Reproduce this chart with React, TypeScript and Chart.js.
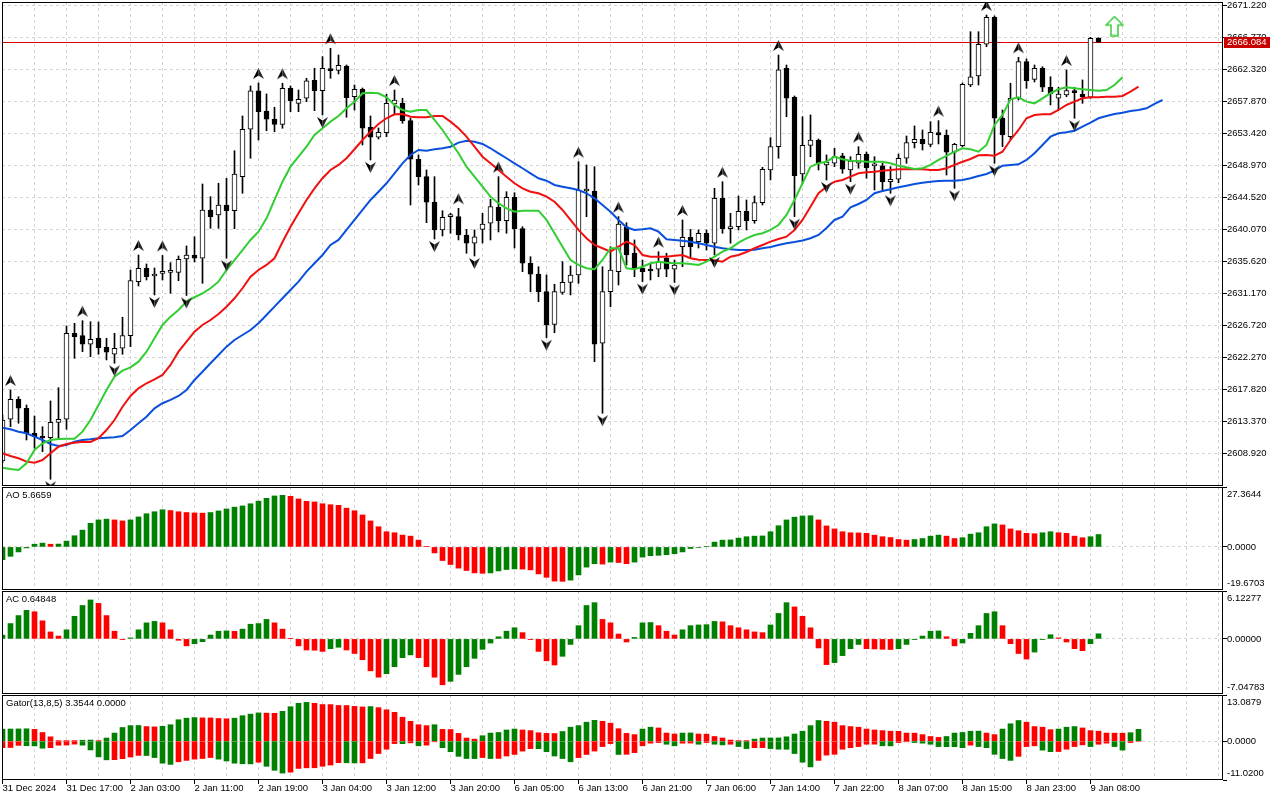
import React, { useEffect, useRef } from "react";
import { Chart, registerables } from "chart.js";

Chart.register(...registerables);

// ======================= DATA =======================
const timeLabels = [
  "31 Dec 2024", "31 Dec 17:00", "2 Jan 03:00", "2 Jan 11:00", "2 Jan 19:00", "3 Jan 04:00",
  "3 Jan 12:00", "3 Jan 20:00", "6 Jan 05:00", "6 Jan 13:00", "6 Jan 21:00", "7 Jan 06:00",
  "7 Jan 14:00", "7 Jan 22:00", "8 Jan 07:00", "8 Jan 15:00", "8 Jan 23:00", "9 Jan 08:00",
];
const timeLabelBars = [0, 8, 16, 24, 32, 40, 48, 56, 64, 72, 80, 88, 96, 104, 112, 120, 128, 136];

const priceTicks = [
  2608.92, 2613.37, 2617.82, 2622.27, 2626.72, 2631.17, 2635.62, 2640.07,
  2644.52, 2648.97, 2653.42, 2657.87, 2662.32, 2666.77, 2671.22,
];
const priceRange = [2604.373, 2671.679];
const lastPrice = 2666.084;
const signalBar = 139;
const signalPrice = 2668.34;

const open = [
  2607.85, 2613.65, 2616.43, 2615.18, 2611.70, 2611.26, 2611.09, 2613.23, 2613.65, 2625.61,
  2625.28, 2624.08, 2624.92, 2623.66, 2622.69, 2623.53, 2625.28, 2632.79, 2634.65, 2633.58,
  2633.93, 2634.07, 2634.09, 2635.94, 2636.50, 2636.04, 2642.76, 2642.06, 2643.45, 2642.66,
  2647.39, 2653.98, 2659.31, 2656.52, 2655.41, 2654.67, 2659.68, 2657.59, 2658.29, 2660.79,
  2659.35, 2662.32, 2662.18, 2662.78, 2658.51, 2659.54, 2654.26, 2652.87, 2653.51, 2657.50,
  2657.59, 2655.18, 2649.81, 2647.39, 2643.83, 2639.98, 2641.83, 2641.83, 2639.28, 2638.13,
  2640.07, 2640.91, 2643.13, 2641.27, 2644.52, 2640.16, 2635.35, 2633.82, 2631.40, 2626.86,
  2631.31, 2632.70, 2633.72, 2645.40, 2645.40, 2624.22, 2631.40, 2634.18, 2640.43, 2636.74,
  2634.65, 2634.34, 2634.51, 2636.04, 2634.51, 2637.65, 2638.96, 2638.35, 2639.52, 2638.13,
  2644.38, 2640.16, 2640.43, 2642.58, 2641.27, 2643.77, 2648.32, 2651.56, 2662.46, 2658.43,
  2647.76, 2651.75, 2652.49, 2649.02, 2649.25, 2650.27, 2648.32, 2649.25, 2650.50, 2648.88,
  2648.88, 2646.69, 2647.03, 2649.95, 2652.12, 2652.59, 2651.89, 2653.51, 2653.19, 2650.78,
  2651.70, 2660.14, 2661.39, 2665.80, 2669.55, 2655.51, 2652.95, 2658.29, 2663.38, 2660.93,
  2662.46, 2659.82, 2658.29, 2658.75, 2659.35, 2658.85, 2658.43, 2666.63,
];
const high = [
  2614.25, 2617.73, 2616.79, 2615.64, 2614.11, 2612.62, 2616.20, 2618.05, 2626.63, 2627.00,
  2627.36, 2627.22, 2627.18, 2624.92, 2625.61, 2627.84, 2634.41, 2636.50, 2635.25, 2634.69,
  2636.43, 2635.43, 2636.36, 2637.75, 2639.04, 2646.37, 2644.61, 2646.47, 2647.17, 2651.00,
  2655.83, 2660.00, 2660.42, 2658.89, 2657.04, 2660.38, 2660.00, 2659.44, 2661.07, 2662.46,
  2664.08, 2665.24, 2664.31, 2662.92, 2660.14, 2659.72, 2655.83, 2654.16, 2658.85, 2659.44,
  2658.29, 2655.51, 2650.41, 2648.32, 2647.39, 2642.66, 2642.30, 2642.99, 2640.07, 2639.98,
  2642.30, 2644.25, 2647.39, 2645.30, 2645.16, 2640.43, 2636.26, 2634.87, 2633.72, 2632.43,
  2635.57, 2634.97, 2649.47, 2649.02, 2648.78, 2634.87, 2637.65, 2641.83, 2640.99, 2638.59,
  2635.80, 2635.35, 2636.96, 2636.74, 2635.80, 2641.37, 2640.07, 2639.98, 2639.98, 2645.77,
  2646.69, 2642.30, 2644.70, 2644.15, 2644.70, 2648.70, 2652.81, 2664.31, 2662.92, 2658.61,
  2655.73, 2655.97, 2652.63, 2650.41, 2651.34, 2650.64, 2650.17, 2651.56, 2650.82, 2650.17,
  2649.25, 2648.78, 2650.54, 2653.05, 2654.44, 2653.88, 2655.04, 2655.18, 2653.88, 2652.03,
  2660.42, 2667.55, 2667.55, 2669.87, 2669.74, 2656.66, 2660.38, 2663.99, 2663.76, 2662.92,
  2662.68, 2661.29, 2659.82, 2662.23, 2659.82, 2660.84, 2666.77, 2666.72,
];
const low = [
  2607.58, 2612.62, 2613.10, 2610.77, 2609.62, 2609.15, 2605.31, 2611.01, 2612.26, 2622.13,
  2623.05, 2622.36, 2622.69, 2621.90, 2621.44, 2622.69, 2623.75, 2632.19, 2633.02, 2630.94,
  2633.02, 2631.17, 2632.93, 2630.87, 2635.53, 2632.56, 2640.21, 2640.21, 2636.04, 2640.16,
  2645.08, 2649.95, 2652.49, 2653.78, 2653.65, 2654.12, 2656.43, 2656.43, 2657.82, 2656.57,
  2655.97, 2661.07, 2661.67, 2655.65, 2656.66, 2651.80, 2649.71, 2652.63, 2652.95, 2655.97,
  2654.81, 2643.45, 2646.23, 2640.99, 2638.72, 2639.14, 2639.52, 2638.59, 2636.74, 2636.36,
  2638.17, 2638.59, 2639.70, 2639.52, 2637.47, 2634.18, 2631.40, 2630.01, 2625.00, 2625.69,
  2631.03, 2630.94, 2632.56, 2641.83, 2621.66, 2614.49, 2629.31, 2632.33, 2635.11, 2633.48,
  2632.79, 2633.02, 2633.48, 2633.48, 2632.68, 2634.87, 2636.08, 2637.47, 2637.19, 2636.50,
  2639.52, 2638.13, 2639.98, 2639.98, 2640.91, 2643.45, 2646.93, 2649.95, 2655.73, 2641.83,
  2646.47, 2650.17, 2648.32, 2646.93, 2648.78, 2647.86, 2646.69, 2648.56, 2647.17, 2645.54,
  2645.30, 2645.08, 2646.55, 2649.25, 2651.38, 2651.10, 2651.56, 2651.94, 2647.62, 2645.77,
  2651.52, 2659.90, 2660.14, 2665.47, 2649.25, 2651.56, 2652.49, 2658.05, 2659.68, 2660.56,
  2659.21, 2657.36, 2656.66, 2658.51, 2655.51, 2657.59, 2658.29, 2666.05,
];
const close = [
  2613.55, 2616.43, 2615.18, 2611.70, 2611.23, 2611.05, 2613.23, 2613.65, 2625.61, 2625.14,
  2624.08, 2624.78, 2623.61, 2622.97, 2623.53, 2625.28, 2632.93, 2634.65, 2633.48, 2633.86,
  2634.00, 2634.14, 2635.90, 2636.50, 2636.04, 2642.76, 2641.83, 2643.45, 2642.66, 2647.76,
  2653.98, 2659.31, 2656.43, 2655.37, 2654.67, 2659.68, 2657.96, 2658.15, 2660.70, 2659.35,
  2662.46, 2662.13, 2662.88, 2658.37, 2659.54, 2654.12, 2652.87, 2653.56, 2657.59, 2658.05,
  2655.18, 2649.81, 2647.39, 2643.83, 2639.98, 2641.74, 2641.92, 2639.28, 2638.13, 2639.04,
  2640.81, 2643.22, 2641.27, 2644.52, 2640.16, 2635.35, 2633.82, 2631.40, 2626.77, 2631.40,
  2632.70, 2633.72, 2645.54, 2645.54, 2624.08, 2631.40, 2634.41, 2640.81, 2636.50, 2634.65,
  2634.18, 2634.27, 2635.57, 2634.51, 2635.11, 2638.96, 2637.65, 2639.52, 2638.13, 2644.38,
  2640.16, 2640.43, 2642.58, 2641.27, 2643.77, 2648.42, 2651.56, 2662.23, 2658.29, 2647.53,
  2651.75, 2652.49, 2649.25, 2649.43, 2650.17, 2648.42, 2649.57, 2650.50, 2648.64, 2648.99,
  2646.69, 2647.03, 2649.95, 2652.12, 2652.59, 2651.94, 2653.56, 2653.19, 2650.78, 2651.89,
  2660.24, 2661.29, 2665.80, 2669.55, 2655.51, 2653.19, 2658.29, 2663.38, 2660.74, 2662.46,
  2659.82, 2658.89, 2658.89, 2659.35, 2659.07, 2658.43, 2666.63, 2666.084,
];

// Alligator lines (already shifted as drawn on the chart)
const lips = [
  2606.92, 2606.74, 2606.60, 2607.53, 2609.38, 2610.31, 2610.77, 2610.91, 2610.95, 2610.95,
  2611.93, 2613.55, 2615.64, 2617.73, 2619.58, 2620.41, 2620.88, 2621.66, 2623.05, 2624.92,
  2626.77, 2627.92, 2628.85, 2630.01, 2630.62, 2631.17, 2631.87, 2632.79, 2634.41, 2635.80,
  2637.19, 2638.59, 2639.74, 2641.60, 2644.15, 2646.69, 2648.78, 2650.17, 2651.56, 2653.19,
  2654.12, 2655.04, 2655.83, 2656.90, 2657.82, 2658.99, 2659.07, 2658.99, 2658.43, 2657.36,
  2656.66, 2656.43, 2656.66, 2656.66, 2655.27, 2653.88, 2652.25, 2650.64, 2648.78, 2647.39,
  2646.00, 2644.61, 2643.69, 2642.99, 2642.52, 2642.66, 2642.66, 2642.66, 2641.37, 2639.52,
  2637.65, 2635.80, 2635.11, 2634.65, 2634.51, 2635.80, 2637.43, 2637.43, 2634.65, 2634.51,
  2634.87, 2635.35, 2635.57, 2635.43, 2635.35, 2635.35, 2635.25, 2635.11, 2635.57, 2636.26,
  2636.96, 2637.43, 2638.21, 2638.82, 2639.28, 2639.52, 2639.98, 2640.67, 2642.06, 2644.15,
  2646.47, 2648.78, 2649.25, 2649.47, 2650.17, 2649.81, 2649.61, 2649.57, 2649.47, 2649.47,
  2649.47, 2649.25, 2648.92, 2648.70, 2648.46, 2648.56, 2649.02, 2649.71, 2650.27, 2650.86,
  2651.34, 2651.20, 2650.86, 2651.80, 2654.58, 2655.97, 2658.15, 2658.43, 2657.82, 2657.59,
  2658.29, 2658.99, 2659.54, 2659.82, 2659.68, 2659.54, 2659.44, 2659.35, 2659.44, 2660.14,
  2661.21,
];
const teeth = [
  2608.92, 2608.55, 2608.23, 2607.76, 2607.62, 2607.99, 2608.92, 2609.84, 2610.22, 2610.40,
  2610.54, 2610.49, 2611.01, 2612.16, 2613.55, 2615.40, 2616.89, 2617.96, 2618.66, 2619.21,
  2619.81, 2621.20, 2623.05, 2624.44, 2625.83, 2626.77, 2627.46, 2628.29, 2629.31, 2630.48,
  2631.87, 2633.48, 2634.41, 2635.11, 2636.04, 2638.31, 2640.43, 2642.30, 2644.15, 2645.77,
  2647.17, 2648.32, 2649.02, 2649.95, 2651.20, 2652.49, 2653.65, 2654.72, 2655.51, 2656.07,
  2656.11, 2655.73, 2655.65, 2655.65, 2655.83, 2655.83, 2655.04, 2654.12, 2652.95, 2651.56,
  2650.17, 2649.25, 2648.32, 2647.39, 2646.47, 2645.77, 2645.30, 2645.08, 2644.61, 2643.91,
  2642.76, 2641.37, 2639.98, 2638.82, 2637.89, 2637.43, 2636.96, 2637.65, 2638.35, 2637.89,
  2636.50, 2636.26, 2636.26, 2636.26, 2636.40, 2636.50, 2636.04, 2635.85, 2635.80, 2635.76,
  2635.57, 2636.26, 2636.50, 2636.92, 2637.43, 2637.89, 2638.35, 2638.72, 2639.04, 2639.98,
  2641.37, 2643.22, 2645.08, 2645.99, 2646.69, 2646.93, 2647.39, 2647.86, 2648.00, 2648.08,
  2648.22, 2648.32, 2648.42, 2648.42, 2648.42, 2648.42, 2648.32, 2648.32, 2648.56, 2649.02,
  2649.47, 2649.85, 2650.36, 2650.41, 2650.31, 2650.86, 2652.49, 2653.88, 2655.51, 2655.97,
  2656.07, 2656.07, 2656.66, 2657.36, 2657.82, 2658.29, 2658.43, 2658.43, 2658.51, 2658.51,
  2658.61, 2659.21, 2659.90,
];
const jaw = [
  2612.48, 2612.26, 2611.93, 2611.70, 2611.23, 2610.77, 2610.22, 2609.94, 2610.08, 2610.54,
  2610.77, 2610.87, 2611.01, 2611.09, 2611.15, 2611.33, 2612.16, 2613.10, 2614.01, 2615.18,
  2615.88, 2616.34, 2616.89, 2617.73, 2619.12, 2620.27, 2621.44, 2622.59, 2623.75, 2624.68,
  2625.37, 2626.07, 2627.00, 2628.16, 2629.31, 2630.48, 2631.63, 2632.79, 2634.18, 2635.35,
  2636.50, 2637.89, 2638.59, 2639.98, 2641.37, 2642.76, 2644.15, 2645.30, 2646.47, 2647.86,
  2649.25, 2650.41, 2651.10, 2651.00, 2651.20, 2651.34, 2651.56, 2652.12, 2652.39, 2652.25,
  2651.94, 2651.34, 2650.64, 2649.95, 2649.25, 2648.56, 2647.86, 2647.17, 2646.83, 2646.23,
  2645.99, 2645.77, 2645.54, 2645.08, 2644.38, 2643.45, 2642.52, 2641.37, 2640.35, 2639.98,
  2640.07, 2640.21, 2639.74, 2638.68, 2638.59, 2638.49, 2638.35, 2638.13, 2637.89, 2637.65,
  2637.43, 2637.29, 2637.19, 2637.19, 2637.24, 2637.43, 2637.61, 2637.89, 2638.13, 2638.31,
  2638.52, 2638.82, 2639.28, 2640.25, 2641.37, 2641.83, 2643.13, 2643.59, 2644.15, 2645.08,
  2645.40, 2645.64, 2645.91, 2646.14, 2646.37, 2646.55, 2646.69, 2646.79, 2646.83, 2646.83,
  2646.93, 2647.17, 2647.49, 2647.76, 2648.22, 2648.92, 2649.02, 2649.11, 2649.71, 2650.64,
  2651.80, 2652.95, 2653.42, 2653.56, 2653.78, 2654.34, 2654.90, 2655.51, 2655.83, 2656.11,
  2656.29, 2656.52, 2656.66, 2656.90, 2657.50, 2658.05,
];

const fractalUp = [1, 10, 17, 20, 32, 35, 41, 49, 57, 62, 72, 77, 82, 85, 90, 97, 107, 117, 123, 127, 133];
const fractalDown = [6, 14, 19, 23, 28, 40, 46, 54, 59, 68, 75, 80, 84, 89, 99, 103, 106, 111, 119, 124, 134];

const aoValues = [
  -5.84, -4.29, -2.28, -0.46, 1.23, 1.73, 1.23, 1.30, 2.65, 5.11,
  7.67, 10.77, 12.33, 12.69, 12.33, 11.87, 12.33, 13.70, 15.16, 16.07,
  16.98, 16.62, 16.07, 15.70, 15.52, 15.43, 15.70, 16.43, 17.35, 18.17,
  18.72, 19.72, 20.91, 22.19, 23.28, 23.56, 23.10, 21.91, 20.82, 20.54,
  19.72, 19.26, 18.99, 17.71, 16.53, 14.61, 11.87, 9.22, 6.94, 6.48,
  5.39, 4.93, 3.10, 0.27, -2.74, -6.21, -8.03, -9.68, -10.77, -11.87,
  -12.05, -11.87, -10.96, -10.32, -10.04, -10.13, -10.50, -12.33, -13.88, -15.61,
  -15.70, -15.16, -12.78, -9.22, -7.67, -7.85, -6.94, -7.12, -7.67, -6.94,
  -4.66, -4.02, -3.83, -3.56, -3.10, -2.28, -0.73, -0.27, 0.27, 2.19,
  3.10, 3.20, 4.02, 4.66, 4.93, 5.02, 6.94, 9.68, 12.33, 13.60,
  14.15, 14.24, 12.33, 9.59, 8.22, 6.94, 6.48, 6.39, 6.21, 5.39,
  4.66, 4.29, 3.38, 3.10, 3.38, 3.83, 4.93, 5.39, 4.93, 3.83,
  4.20, 5.84, 6.48, 9.22, 10.50, 10.04, 8.22, 7.40, 6.21, 6.03,
  6.48, 6.94, 6.48, 6.21, 4.93, 4.20, 4.66, 5.6659,
];
const aoRange = [-19.6703, 27.3644];

const acValues = [
  0.48, 1.96, 2.98, 3.65, 3.47, 2.31, 0.89, 0.36, 1.16, 2.89,
  4.27, 4.98, 4.54, 2.98, 0.98, -0.09, 0.13, 1.16, 2.05, 2.23,
  2.05, 1.16, -0.18, -0.89, -0.62, -0.36, 0.49, 0.98, 1.02, 0.97,
  1.25, 1.87, 1.96, 2.49, 2.05, 1.25, 0.04, -0.89, -1.42, -1.45,
  -1.60, -1.25, -1.07, -1.42, -1.87, -2.67, -4.09, -4.90, -4.45, -3.56,
  -2.40, -2.05, -2.40, -3.56, -4.90, -5.87, -5.43, -4.54, -3.56, -2.49,
  -1.34, -0.53, 0.27, 0.98, 1.42, 0.80, -0.09, -1.60, -2.80, -3.34,
  -2.23, -0.71, 1.69, 4.27, 4.63, 2.49, 2.05, 0.62, -0.40, 0.18,
  2.05, 2.09, 1.69, 0.98, 0.49, 1.16, 1.69, 1.78, 1.82, 2.23,
  2.18, 1.69, 1.42, 1.16, 0.89, 0.80, 1.78, 3.25, 4.63, 4.09,
  2.89, 1.42, -1.16, -3.29, -3.03, -2.14, -1.25, -0.71, -1.25, -1.29,
  -1.33, -1.36, -1.25, -0.71, -0.09, 0.36, 0.98, 1.02, 0.27, -0.89,
  -0.53, 0.71, 1.69, 3.25, 3.47, 1.69, -0.62, -1.87, -2.58, -1.69,
  -0.09, 0.53, 0.13, -0.40, -1.25, -1.51, -0.62, 0.64848,
];
const acRange = [-7.04783, 6.12277];

const gatorUpper = [
  3.40, 3.44, 3.47, 3.50, 3.34, 2.46, 1.23, 0.12, 0.10, 0.08,
  0.26, 0.31, 0.09, 0.88, 2.29, 3.87, 4.40, 4.44, 4.14, 4.05,
  4.22, 4.66, 6.07, 6.51, 6.69, 6.60, 6.58, 6.42, 6.34, 6.51,
  7.22, 7.66, 8.01, 7.94, 7.90, 8.45, 9.77, 10.74, 11.00, 10.74,
  10.38, 10.36, 10.12, 10.10, 9.86, 9.70, 9.80, 9.50, 8.89, 8.18,
  6.78, 5.63, 4.66, 4.40, 4.66, 3.34, 3.30, 2.20, 0.88, 0.57,
  1.54, 2.29, 2.46, 3.17, 3.43, 3.17, 2.99, 2.38, 2.20, 2.16,
  2.73, 3.96, 4.40, 5.37, 5.90, 5.63, 5.10, 3.52, 2.20, 1.85,
  3.43, 3.96, 3.74, 2.29, 2.02, 2.29, 2.33, 2.02, 1.98, 1.32,
  0.88, 0.31, 0.09, 0.08, 0.57, 0.88, 0.90, 0.92, 1.23, 2.02,
  2.82, 4.40, 5.85, 5.63, 5.37, 4.40, 4.14, 3.96, 3.43, 3.17,
  2.99, 2.82, 2.80, 2.29, 2.27, 1.85, 1.32, 1.06, 1.32, 2.29,
  2.46, 2.82, 2.84, 2.29, 1.85, 3.43, 4.93, 5.85, 5.37, 4.14,
  3.96, 3.26, 3.43, 3.96, 4.14, 3.74, 2.99, 2.82, 2.29, 2.27,
  2.25, 2.40, 3.3544,
];
const gatorLower = [
  -1.85, -1.80, -1.20, -1.30, -1.35, -2.00, -1.85, -1.15, -1.10, -0.85,
  -1.15, -2.50, -4.45, -5.30, -5.25, -4.98, -4.50, -4.05, -4.08, -4.66,
  -6.25, -6.60, -5.85, -5.46, -5.10, -4.93, -4.66, -5.10, -5.63, -6.25,
  -6.42, -6.45, -5.98, -7.13, -8.27, -9.06, -8.80, -7.74, -7.57, -7.55,
  -7.13, -6.78, -6.10, -6.14, -6.18, -6.16, -4.93, -3.52, -2.29, -0.70,
  -0.72, -0.48, -1.32, -1.14, -0.18, -1.85, -2.99, -4.31, -4.93, -4.95,
  -4.66, -4.93, -4.90, -4.22, -3.78, -2.82, -2.11, -2.15, -2.99, -4.22,
  -4.93, -5.85, -4.66, -3.78, -2.82, -1.54, -0.70, -3.78, -3.74, -3.26,
  -1.32, -0.57, -0.40, -0.88, -1.32, -0.57, -0.55, -0.88, -0.40, -0.88,
  -1.06, -0.88, -1.54, -2.11, -1.85, -1.83, -2.11, -2.29, -2.31, -3.52,
  -5.98, -7.30, -5.46, -3.96, -3.74, -2.29, -1.85, -1.54, -0.88, -0.86,
  -1.32, -1.34, -0.40, -0.18, -0.40, -0.57, -0.88, -1.54, -1.56, -1.58,
  -1.85, -1.14, -1.54, -1.85, -3.74, -4.93, -5.46, -4.31, -1.54, -1.32,
  -2.55, -2.99, -2.95, -2.29, -1.54, -1.06, -1.54, -0.88, -0.57, -1.54,
  -2.55, -0.40, 0,
];
const gatorRange = [-11.02, 13.0879];

// ======================= STYLE / LAYOUT =======================
const X_MIN = -0.0625;
const X_MAX = 152.5625;
const GRID_STEP = 4;
const GREEN = "#008000";
const RED = "#ff0000";
const GRID_COLOR = "#d4d4d4";
const LIPS_COLOR = "#32cd32";
const TEETH_COLOR = "#f01010";
const JAW_COLOR = "#0a50dc";
const PRICE_LINE = "#e00000";
const PRICE_BOX = "#c80000";
const AXIS_W = 57;

function pickFont() {
  try {
    const g = document.createElement("canvas").getContext("2d") as CanvasRenderingContext2D;
    const s = "2662.320 AO Dec 17:00";
    g.font = "11px monospace";
    const a = g.measureText(s).width;
    g.font = '11px "Liberation Sans Narrow", monospace';
    const b = g.measureText(s).width;
    if (Math.abs(a - b) > 0.5) return { family: '"Liberation Sans Narrow"', size: 11 };
  } catch (e) {}
  return { family: '"Liberation Sans", Arial, sans-serif', size: 9.5 };
}

function fractalIcon(up: boolean) {
  const c = document.createElement("canvas");
  c.width = 13;
  c.height = 32;
  const g = c.getContext("2d") as CanvasRenderingContext2D;
  if (up) {
    g.fillStyle = "#000";
    g.beginPath(); g.moveTo(6.5, 1); g.lineTo(6.5, 8.5); g.lineTo(1, 12); g.closePath(); g.fill();
    g.fillStyle = "#262626";
    g.beginPath(); g.moveTo(6.5, 1); g.lineTo(12, 12); g.lineTo(6.5, 8.5); g.closePath(); g.fill();
  } else {
    g.fillStyle = "#000";
    g.beginPath(); g.moveTo(6.5, 29); g.lineTo(6.5, 21.5); g.lineTo(1, 18); g.closePath(); g.fill();
    g.fillStyle = "#262626";
    g.beginPath(); g.moveTo(6.5, 29); g.lineTo(12, 18); g.lineTo(6.5, 21.5); g.closePath(); g.fill();
  }
  return c;
}

function signalIcon() {
  const c = document.createElement("canvas");
  c.width = 19;
  c.height = 21;
  const g = c.getContext("2d") as CanvasRenderingContext2D;
  g.beginPath();
  g.moveTo(9.5, 1); g.lineTo(18, 9.5); g.lineTo(13, 9.5); g.lineTo(13, 20);
  g.lineTo(6, 20); g.lineTo(6, 9.5); g.lineTo(1, 9.5); g.closePath();
  g.fillStyle = "#ffffff"; g.fill();
  g.strokeStyle = "#3ccc3c"; g.lineWidth = 1.5; g.stroke();
  return c;
}

const trendColors = (vals: number[], useAbs: boolean, first: string) =>
  vals.map((v, i) => {
    if (i === 0) return first;
    const a = useAbs ? Math.abs(v) : v;
    const b = useAbs ? Math.abs(vals[i - 1]) : vals[i - 1];
    return a > b ? GREEN : RED;
  });

function xScale(show: boolean, font: any) {
  const s: any = {
    type: "linear",
    min: X_MIN,
    max: X_MAX,
    offset: false,
    display: show,
    border: { display: false },
    grid: { display: show, offset: false, drawOnChartArea: false, drawTicks: true, tickLength: 4, tickColor: "#000", lineWidth: 1 },
  };
  if (show) {
    s.ticks = {
      autoSkip: false, maxRotation: 0, minRotation: 0, align: "start", padding: -1,
      color: "#000", font, callback: (_v: any, i: number) => timeLabels[i] ?? "",
    };
    s.afterBuildTicks = (axis: any) => { axis.ticks = timeLabelBars.map((v) => ({ value: v })); };
    s.afterFit = (axis: any) => { axis.height = 20; axis.paddingLeft = 0; axis.paddingRight = 0; };
  }
  return s;
}

function yScale(min: number, max: number, ticks: number[], fmt: (v: number) => any, font: any) {
  return {
    type: "linear",
    position: "right",
    min,
    max,
    beginAtZero: false,
    border: { display: false },
    grid: { drawOnChartArea: false, drawTicks: true, tickLength: 4, tickColor: "#000", lineWidth: 1 },
    ticks: { autoSkip: false, padding: 0, color: "#000", font: { ...font, lineHeight: 1.5 }, callback: (v: any) => fmt(Number(v)) },
    afterBuildTicks: (axis: any) => { axis.ticks = ticks.map((v) => ({ value: v })); },
    afterFit: (axis: any) => { axis.width = AXIS_W; axis.paddingTop = 0; axis.paddingBottom = 0; },
  };
}

function paneDecor(levels: number[]) {
  return {
    id: "mtPane",
    beforeDatasetsDraw(chart: any) {
      const { ctx, chartArea: a } = chart;
      const xs = chart.scales.x;
      const ys = chart.scales.y;
      ctx.save();
      ctx.beginPath();
      ctx.rect(a.left, a.top, a.right - a.left, a.bottom - a.top);
      ctx.clip();
      ctx.strokeStyle = GRID_COLOR;
      ctx.lineWidth = 1;
      ctx.setLineDash([3, 3]);
      for (let k = GRID_STEP; k <= X_MAX; k += GRID_STEP) {
        const px = Math.round(xs.getPixelForValue(k) - 0.5) + 0.5;
        ctx.beginPath(); ctx.moveTo(px, a.top); ctx.lineTo(px, a.bottom); ctx.stroke();
      }
      for (const v of levels) {
        const py = Math.floor(ys.getPixelForValue(v)) + 0.5;
        ctx.beginPath(); ctx.moveTo(a.left, py); ctx.lineTo(a.right, py); ctx.stroke();
      }
      ctx.restore();
    },
    afterDatasetsDraw(chart: any) {
      const { ctx, chartArea: a } = chart;
      ctx.save();
      ctx.setLineDash([]);
      ctx.strokeStyle = "#000";
      ctx.lineWidth = 1;
      ctx.strokeRect(a.left + 0.5, a.top + 0.5, a.right - a.left - 1, a.bottom - a.top - 1);
      ctx.restore();
    },
  };
}

function titlePlugin(text: string, font: any) {
  return {
    id: "mtTitle",
    afterDraw(chart: any) {
      const { ctx, chartArea: a } = chart;
      ctx.save();
      ctx.font = `${font.size}px ${font.family}`;
      ctx.fillStyle = "#000";
      ctx.textAlign = "left";
      ctx.textBaseline = "middle";
      ctx.fillText(text, a.left + 4, a.top + 8);
      ctx.restore();
    },
  };
}

function pricePlugin(font: any) {
  return {
    id: "mtPrice",
    beforeDatasetsDraw(chart: any) {
      const { ctx, chartArea: a } = chart;
      const py = Math.floor(chart.scales.y.getPixelForValue(lastPrice)) + 0.5;
      ctx.save();
      ctx.strokeStyle = PRICE_LINE;
      ctx.lineWidth = 1;
      ctx.beginPath(); ctx.moveTo(a.left, py); ctx.lineTo(a.right, py); ctx.stroke();
      ctx.restore();
    },
    afterDraw(chart: any) {
      const { ctx, chartArea: a } = chart;
      const py = Math.floor(chart.scales.y.getPixelForValue(lastPrice));
      ctx.save();
      ctx.fillStyle = PRICE_BOX;
      ctx.fillRect(a.right + 1, py - 5, 46, 11);
      ctx.fillStyle = "#ffffff";
      ctx.font = `${font.size}px ${font.family}`;
      ctx.textAlign = "left";
      ctx.textBaseline = "middle";
      ctx.fillText(lastPrice.toFixed(3), a.right + 4, py + 0.5);
      ctx.restore();
    },
  };
}

const baseOptions = (padTop: number) => ({
  responsive: false,
  animation: false,
  devicePixelRatio: 1,
  events: [],
  layout: { autoPadding: false, padding: { left: 2, top: padTop, right: 0, bottom: 0 } },
  plugins: { legend: { display: false }, tooltip: { enabled: false } },
});

function mainConfig(font: any) {
  const bodyColors = open.map((o, i) => (close[i] >= o ? "#ffffff" : "#000000"));
  const upIcon = fractalIcon(true);
  const downIcon = fractalIcon(false);
  return {
    type: "bar",
    data: {
      datasets: [
        { type: "scatter", data: [{ x: signalBar, y: signalPrice }], pointStyle: signalIcon(), pointRadius: 5, clip: 0, order: 0 },
        { type: "scatter", data: fractalUp.map((i) => ({ x: i, y: high[i] })), pointStyle: upIcon, pointRadius: 5, clip: 0, order: 0 },
        { type: "scatter", data: fractalDown.map((i) => ({ x: i, y: low[i] })), pointStyle: downIcon, pointRadius: 5, clip: 0, order: 0 },
        { type: "line", data: lips.map((y, i) => ({ x: i, y })), borderColor: LIPS_COLOR, borderWidth: 2, pointRadius: 0, tension: 0, fill: false, order: 0 },
        { type: "line", data: teeth.map((y, i) => ({ x: i, y })), borderColor: TEETH_COLOR, borderWidth: 2, pointRadius: 0, tension: 0, fill: false, order: 0 },
        { type: "line", data: jaw.map((y, i) => ({ x: i, y })), borderColor: JAW_COLOR, borderWidth: 2, pointRadius: 0, tension: 0, fill: false, order: 0 },
        {
          type: "bar", data: open.map((o, i) => ({ x: i, y: [o, close[i]] })),
          backgroundColor: bodyColors, borderColor: "#000000", borderWidth: 1, borderSkipped: false,
          barThickness: 5, minBarLength: 2, grouped: false, order: 1,
        },
        {
          type: "bar", data: low.map((l, i) => ({ x: i, y: [l, high[i]] })),
          backgroundColor: "#000000", borderWidth: 0, barThickness: 1, grouped: false, order: 2,
        },
      ],
    },
    options: {
      ...baseOptions(2),
      scales: {
        x: xScale(false, font),
        y: yScale(priceRange[0], priceRange[1], priceTicks, (v) => v.toFixed(3), font),
      },
    },
    plugins: [paneDecor(priceTicks), pricePlugin(font)],
  };
}

function histConfig(
  series: { values: number[]; colors: string[] }[],
  range: number[],
  digits: number,
  title: string,
  font: any,
  showX: boolean,
) {
  const [mn, mx] = range;
  const fmt = (v: number) => {
    if (Math.abs(v - mx) < 1e-9) return ["", mx.toFixed(digits)];
    if (Math.abs(v - mn) < 1e-9) return [mn.toFixed(digits), ""];
    return v.toFixed(digits);
  };
  return {
    type: "bar",
    data: {
      datasets: series.map((s) => ({
        type: "bar",
        data: s.values.map((y, i) => ({ x: i, y })),
        backgroundColor: s.colors,
        borderWidth: 0,
        barThickness: 5,
        grouped: false,
      })),
    },
    options: {
      ...baseOptions(1),
      scales: {
        x: xScale(showX, font),
        y: yScale(mn, mx, [mn, 0, mx], fmt, font),
      },
    },
    plugins: [paneDecor([0]), titlePlugin(title, font)],
  };
}

export default function App() {
  const mainRef = useRef<HTMLCanvasElement>(null);
  const aoRef = useRef<HTMLCanvasElement>(null);
  const acRef = useRef<HTMLCanvasElement>(null);
  const gatorRef = useRef<HTMLCanvasElement>(null);

  useEffect(() => {
    const font = pickFont();
    const last = (a: number[]) => a[a.length - 1];
    const charts: Chart[] = [];
    charts.push(new Chart(mainRef.current as HTMLCanvasElement, mainConfig(font) as any));
    charts.push(
      new Chart(
        aoRef.current as HTMLCanvasElement,
        histConfig([{ values: aoValues, colors: trendColors(aoValues, false, GREEN) }], aoRange, 4,
          `AO ${last(aoValues).toFixed(4)}`, font, false) as any,
      ),
    );
    charts.push(
      new Chart(
        acRef.current as HTMLCanvasElement,
        histConfig([{ values: acValues, colors: trendColors(acValues, false, GREEN) }], acRange, 5,
          `AC ${last(acValues).toFixed(5)}`, font, false) as any,
      ),
    );
    charts.push(
      new Chart(
        gatorRef.current as HTMLCanvasElement,
        histConfig(
          [
            { values: gatorUpper, colors: trendColors(gatorUpper, true, GREEN) },
            { values: gatorLower, colors: trendColors(gatorLower, true, RED) },
          ],
          gatorRange, 4,
          `Gator(13,8,5) ${last(gatorUpper).toFixed(4)} ${Math.abs(last(gatorLower)).toFixed(4)}`,
          font, true,
        ) as any,
      ),
    );
    return () => charts.forEach((c) => c.destroy());
  }, []);

  const cv = (top: number, h: number): React.CSSProperties => ({
    position: "absolute", left: 0, top, width: 1280, height: h, display: "block",
  });

  return (
    <div style={{ position: "absolute", left: 0, top: 0, width: 1280, height: 800, background: "#ffffff", overflow: "hidden" }}>
      <canvas ref={mainRef} width={1280} height={486} style={cv(0, 486)} />
      <canvas ref={aoRef} width={1280} height={104} style={cv(486, 104)} />
      <canvas ref={acRef} width={1280} height={104} style={cv(590, 104)} />
      <canvas ref={gatorRef} width={1280} height={106} style={cv(694, 106)} />
    </div>
  );
}
